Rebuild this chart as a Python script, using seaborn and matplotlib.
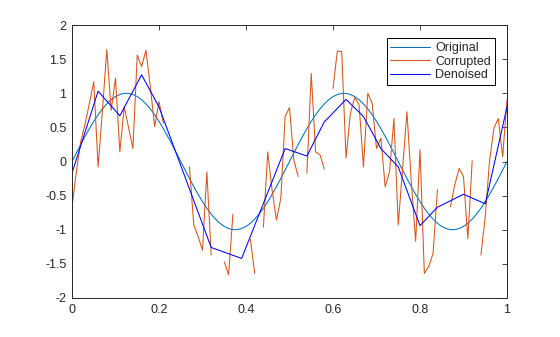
import numpy as np
import pandas as pd
import matplotlib
matplotlib.use("Agg")
import matplotlib.pyplot as plt
import seaborn as sns
from matplotlib.lines import Line2D

nan = np.nan
t = np.linspace(0, 1, 101)

original = [
    0.000, 0.125, 0.249, 0.368, 0.482, 0.588, 0.685, 0.771, 0.844, 0.905, 0.951, 0.982, 0.998,
    0.998, 0.982, 0.951, 0.905, 0.844, 0.771, 0.685, 0.588, 0.482, 0.368, 0.249, 0.125, 0.000,
    -0.125, -0.249, -0.368, -0.482, -0.588, -0.685, -0.771, -0.844, -0.905, -0.951, -0.982, -0.998,
    -0.998, -0.982, -0.951, -0.905, -0.844, -0.771, -0.685, -0.588, -0.482, -0.368, -0.249, -0.125,
    0.000, 0.125, 0.249, 0.368, 0.482, 0.588, 0.685, 0.771, 0.844, 0.905, 0.951, 0.982, 0.998,
    0.998, 0.982, 0.951, 0.905, 0.844, 0.771, 0.685, 0.588, 0.482, 0.368, 0.249, 0.125, 0.000,
    -0.125, -0.249, -0.368, -0.482, -0.588, -0.685, -0.771, -0.844, -0.905, -0.951, -0.982, -0.998,
    -0.998, -0.982, -0.951, -0.905, -0.844, -0.771, -0.685, -0.588, -0.482, -0.368, -0.249, -0.125,
    0.000,
]

corrupted = [
    -0.67, -0.15, 0.29, 0.55, 0.85, 1.17, -0.08, 0.75, 1.64, 0.75,   # 0.00-0.09
    1.22, 0.14, 0.80, 0.50, 0.19, 1.56, 1.39, 1.63, 1.10, 0.51,      # 0.10-0.19
    0.88, 0.56, nan, nan, nan, nan, nan, -0.08, -0.93, -1.10,        # 0.20-0.29
    -1.30, -0.15, -1.37, nan, nan, -1.47, -1.66, -0.77, nan, nan,    # 0.30-0.39
    nan, -1.14, -1.64, nan, -0.96, 0.14, -0.42, -0.86, -0.54, 0.66,  # 0.40-0.49
    0.79, 0.02, -0.22, nan, -0.17, 1.29, 0.14, 0.10, -0.11, nan,     # 0.50-0.59
    1.07, 1.62, 1.61, 0.05, 0.71, 0.94, 0.83, -0.08, 1.00, 0.85,     # 0.60-0.69
    0.19, 0.34, -0.37, -0.15, 0.63, -0.93, -0.10, 0.73, -0.30, -1.17,  # 0.70-0.79
    0.17, -1.64, -1.54, -1.35, -0.41, nan, nan, -0.66, -0.34, -0.10, # 0.80-0.89
    -0.22, -1.13, 0.01, nan, -1.37, -0.81, 0.02, 0.49, 0.63, 0.07,   # 0.90-0.99
    0.90,
]

denoised_x = [0.00, 0.06, 0.11, 0.16, 0.20, 0.32, 0.39, 0.49, 0.54, 0.58,
              0.63, 0.67, 0.71, 0.75, 0.80, 0.84, 0.90, 0.95, 1.00]
denoised_y = [-0.17, 1.03, 0.67, 1.27, 0.80, -1.26, -1.42, 0.19, 0.08, 0.58,
              0.91, 0.66, 0.19, -0.08, -0.94, -0.67, -0.48, -0.62, 0.80]

labels = ["Original", "Corrupted", "Denoised"]
colors = ["#0072BD", "#D95319", "#0000FF"]

# Style
sns.set_theme(style="white")
plt.rcParams["font.family"] = ["Liberation Sans", "DejaVu Sans"]
axis_color = "#262626"

df_orig = pd.DataFrame({"t": t, "y": original})
df_corr = pd.DataFrame({"t": t, "y": corrupted})
# split corrupted signal into segments at the missing samples
df_corr["seg"] = df_corr["y"].isna().cumsum()
df_corr = df_corr.dropna()
df_den = pd.DataFrame({"t": denoised_x, "y": denoised_y})

fig = plt.figure(figsize=(5.6, 3.37), dpi=100)
ax = fig.add_axes([72 / 560, 1 - 298 / 337, 435 / 560, 273 / 337])

lw = 0.75
sns.lineplot(data=df_orig, x="t", y="y", color=colors[0], linewidth=lw,
             estimator=None, sort=False, ax=ax)
sns.lineplot(data=df_corr, x="t", y="y", units="seg", color=colors[1], linewidth=lw,
             estimator=None, sort=False, ax=ax)
sns.lineplot(data=df_den, x="t", y="y", color=colors[2], linewidth=lw,
             estimator=None, sort=False, ax=ax)

ax.set_xlim(0, 1)
ax.set_ylim(-2, 2)
ax.set_xticks([0, 0.2, 0.4, 0.6, 0.8, 1])
ax.set_xticklabels(["0", "0.2", "0.4", "0.6", "0.8", "1"])
ax.set_yticks([-2, -1.5, -1, -0.5, 0, 0.5, 1, 1.5, 2])
ax.set_yticklabels(["-2", "-1.5", "-1", "-0.5", "0", "0.5", "1", "1.5", "2"])
ax.set_xlabel("")
ax.set_ylabel("")

ax.tick_params(direction="in", length=3.5, width=0.6, colors=axis_color,
               labelsize=9, top=True, right=True, pad=4)
ax.tick_params(axis="both", labelcolor=axis_color)
for side in ax.spines.values():
    side.set_visible(True)
    side.set_color(axis_color)
    side.set_linewidth(0.7)

handles = [Line2D([], [], color=c, linewidth=lw) for c in colors]
leg = ax.legend(handles, labels, loc="upper right", bbox_to_anchor=(0.972, 0.951),
                borderaxespad=0, fontsize=9, handlelength=3.2, handletextpad=0.4,
                labelspacing=0.12, borderpad=0.3, fancybox=False, framealpha=1,
                edgecolor="black")
leg.get_frame().set_linewidth(0.7)

plt.savefig("out.png", dpi=100)
plt.close()
